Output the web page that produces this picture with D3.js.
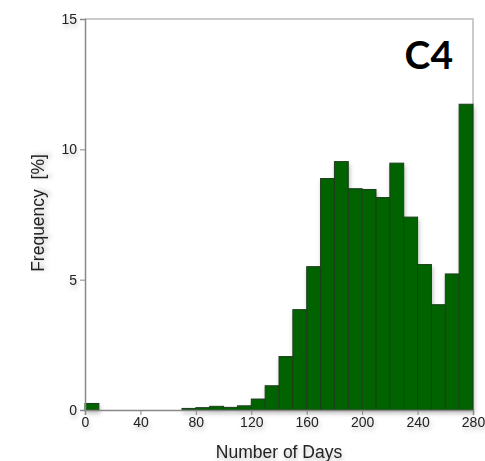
<!DOCTYPE html>
<html>
<head>
<meta charset="utf-8">
<script src="https://cdn.jsdelivr.net/npm/d3@7"></script>
<style>
  body { margin: 0; background: #fff; }
  text { font-family: "Liberation Sans", Arial, sans-serif; }
</style>
</head>
<body>
<svg></svg>
<script>
// bins of 10 days, starting day of each bin
let binStarts = [0, 10, 20, 30, 40, 50, 60, 70, 80, 90, 100, 110, 120, 130,
                 140, 150, 160, 170, 180, 190, 200, 210, 220, 230, 240, 250, 260, 270];
let freqValues = [0.25, 0, 0, 0, 0, 0, 0, 0.06, 0.09, 0.14, 0.1, 0.16, 0.42, 0.93,
                  2.05, 3.85, 5.5, 8.88, 9.53, 8.49, 8.46, 8.15, 9.47, 7.4,
                  5.58, 4.04, 5.22, 11.73];
let xTicks = [0, 40, 80, 120, 160, 200, 240, 280];
let yTicks = [0, 5, 10, 15];
let binWidth = 10;

let width = 485;
let height = 461;
let margin = {left: 85, right: 12, top: 19, bottom: 51};

let svg = d3.select("svg")
  .attr("width", width)
  .attr("height", height);

// soft shadow like the original image
let defs = svg.append("defs");
let f = defs.append("filter").attr("id", "shadow")
  .attr("x", "-20%").attr("y", "-20%").attr("width", "150%").attr("height", "160%");
f.append("feDropShadow")
  .attr("dx", 1).attr("dy", 3).attr("stdDeviation", 2)
  .attr("flood-color", "#000").attr("flood-opacity", 0.25);

let xScale = d3.scaleLinear()
  .domain([0, 280])
  .range([margin.left, width - margin.right]);

let yScale = d3.scaleLinear()
  .domain([0, 15])
  .range([height - margin.bottom, margin.top]);

// frame top and right
svg.append("path")
  .attr("d", "M" + xScale(0) + "," + yScale(15) + "H" + xScale(280) + "V" + yScale(0))
  .attr("fill", "none")
  .attr("stroke", "#bbb")
  .attr("stroke-width", 1.5);

// bars
let data = binStarts.map((d, i) => ({start: d, value: freqValues[i]}));
svg.append("g")
  .attr("filter", "url(#shadow)")
  .selectAll("rect")
  .data(data.filter(d => d.value > 0))
  .enter()
  .append("rect")
  .attr("x", d => xScale(d.start))
  .attr("y", d => yScale(d.value))
  .attr("width", d => xScale(d.start + binWidth) - xScale(d.start))
  .attr("height", d => yScale(0) - yScale(d.value))
  .attr("fill", "#006400")
  .attr("stroke", "#1f3d1f")
  .attr("stroke-width", 1);

// axes
let xAxis = d3.axisBottom(xScale).tickValues(xTicks).tickSize(5).tickPadding(2);
let yAxis = d3.axisLeft(yScale).tickValues(yTicks).tickSize(5).tickPadding(3);

let gx = svg.append("g")
  .attr("transform", "translate(0, " + yScale(0) + ")")
  .call(xAxis);
let gy = svg.append("g")
  .attr("transform", "translate(" + xScale(0) + ", 0)")
  .call(yAxis);

[gx, gy].forEach(g => {
  g.select(".domain").attr("stroke", "#888").attr("stroke-width", 1.5);
  g.selectAll(".tick line").attr("stroke", "#888");
  g.selectAll(".tick text")
    .attr("fill", "#222")
    .style("font-size", "14px")
    .style("font-family", "Liberation Sans, Arial, sans-serif")
    .attr("filter", "url(#shadow)");
});

// axis titles
svg.append("text")
  .attr("x", (xScale(0) + xScale(280)) / 2)
  .attr("y", 458)
  .attr("text-anchor", "middle")
  .attr("fill", "#222")
  .attr("filter", "url(#shadow)")
  .style("font-size", "17.5px")
  .text("Number of Days");

svg.append("text")
  .attr("transform", "translate(44, 213) rotate(-90)")
  .attr("text-anchor", "middle")
  .attr("fill", "#222")
  .attr("filter", "url(#shadow)")
  .style("font-size", "17.5px")
  .style("white-space", "pre")
  .text("Frequency  [%]");

// panel label
svg.append("text")
  .attr("x", 453)
  .attr("y", 69)
  .attr("text-anchor", "end")
  .attr("fill", "#000")
  .style("font-family", "Lato, 'Open Sans', sans-serif")
  .style("font-weight", "bold")
  .style("font-size", "39px")
  .text("C4");
</script>
</body>
</html>
